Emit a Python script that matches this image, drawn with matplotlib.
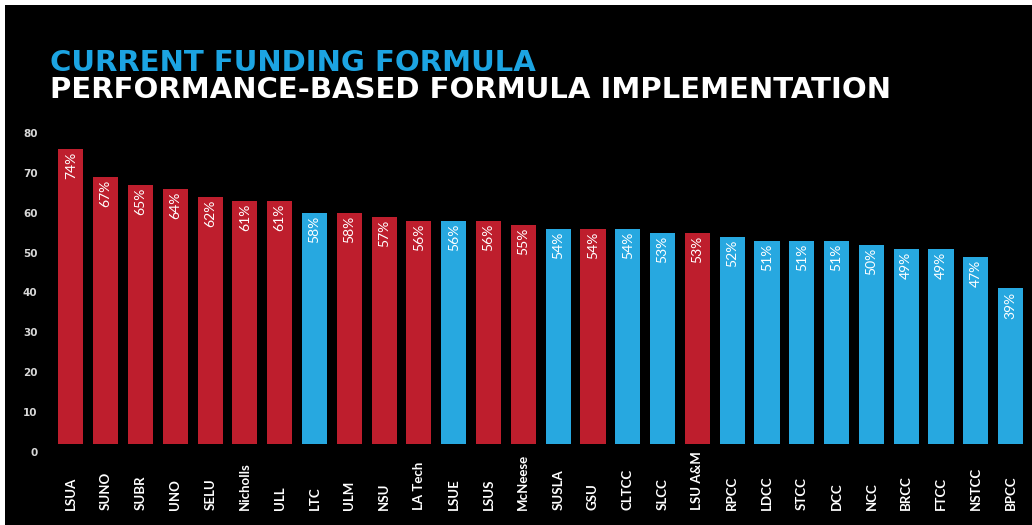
import matplotlib
matplotlib.use("Agg")
import matplotlib.pyplot as plt
from matplotlib.patches import Rectangle

# data
schools = ["LSUA", "SUNO", "SUBR", "UNO", "SELU", "Nicholls", "ULL", "LTC", "ULM",
           "NSU", "LA Tech", "LSUE", "LSUS", "McNeese", "SUSLA", "GSU", "CLTCC", "SLCC",
           "LSU A&M", "RPCC", "LDCC", "STCC", "DCC", "NCC", "BRCC", "FTCC", "NSTCC", "BPCC"]
pct = [74, 67, 65, 64, 62, 61, 61, 58, 58, 57, 56, 56, 56, 55, 54, 54, 54, 53, 53,
       52, 51, 51, 51, 50, 49, 49, 47, 39]
# r = university, b = technical / community college
group = ["r", "r", "r", "r", "r", "r", "r", "b", "r", "r", "r", "b", "r", "r", "b", "r",
         "b", "b", "r", "b", "b", "b", "b", "b", "b", "b", "b", "b"]
yticks = [0, 10, 20, 30, 40, 50, 60, 70, 80]

RED = "#BE1E2D"
BLUE = "#27A8E0"
narrow = ["Lato", "DejaVu Sans"]

fig = plt.figure(figsize=(10.32, 5.25), dpi=100, facecolor="black")
# thin white margin at top and left, as in the cropped screenshot
fig.patches.append(Rectangle((0, 520 / 525), 1, 5 / 525, transform=fig.transFigure,
                             facecolor="white", edgecolor="none", zorder=-10))
fig.patches.append(Rectangle((0, 0), 5 / 1032, 1, transform=fig.transFigure,
                             facecolor="white", edgecolor="none", zorder=-10))

ax = fig.add_axes([0.0485, 0.139, 0.951, 0.646])
ax.set_facecolor("black")
ax.patch.set_alpha(0)

x = list(range(len(schools)))
colors = [RED if g == "r" else BLUE for g in group]
ax.bar(x, pct, bottom=2, width=0.72, color=colors, edgecolor="none")

for i, v in enumerate(pct):
    ax.text(i, v + 1.2, f"{v}%", rotation=90, ha="center", va="top", color="white",
            fontsize=10, family=narrow)
    ax.text(i, -14.5, schools[i], rotation=90, ha="center", va="bottom", color="white",
            fontsize=9.5, fontweight="bold", family=narrow, clip_on=False)

ax.set_xlim(-0.6, len(schools) - 0.4)
ax.set_ylim(0, 85)
ax.set_xticks([])
ax.set_yticks(yticks)
ax.set_yticklabels([str(t) for t in yticks], color="#D8D8D8", fontsize=7.5,
                   fontweight="bold")
ax.tick_params(axis="y", length=0, pad=9)
for s in ax.spines.values():
    s.set_visible(False)

fig.text(50 / 1032, (525 - 71) / 525, "CURRENT FUNDING FORMULA", color="#1CA4E2",
         fontsize=21, fontweight="bold", va="baseline")
fig.text(50 / 1032, (525 - 98) / 525, "PERFORMANCE-BASED FORMULA IMPLEMENTATION",
         color="white", fontsize=21, fontweight="bold", va="baseline")

fig.savefig("out.png", dpi=100, facecolor="black")
